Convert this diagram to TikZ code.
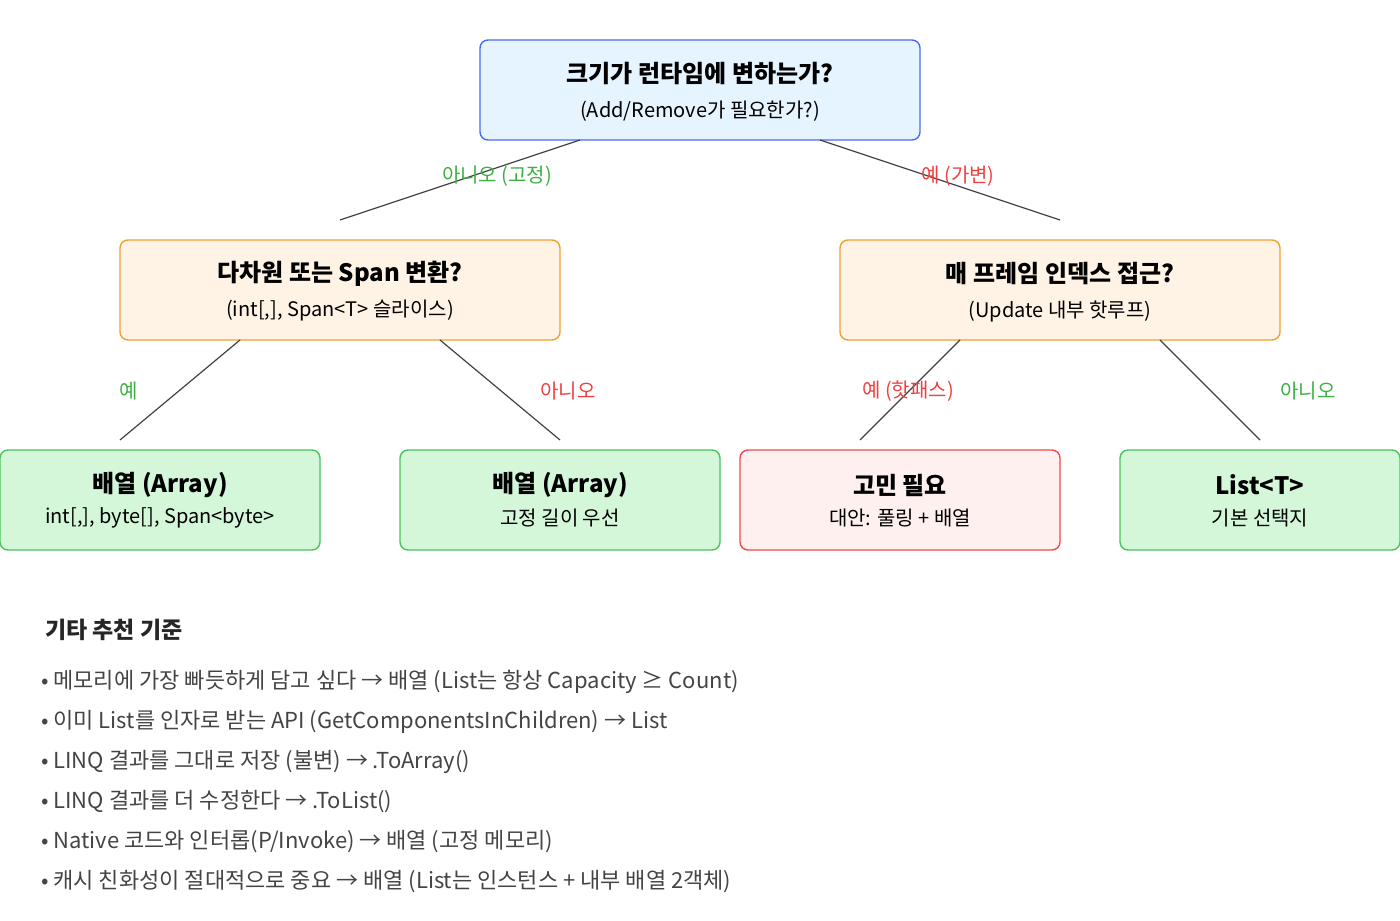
\documentclass[tikz,border=0pt]{standalone}
\usepackage{fontspec}
\setmainfont{Noto Sans CJK KR}
\definecolor{qfill}{HTML}{E6F4FF}\definecolor{qdraw}{HTML}{4A6CF0}
\definecolor{ofill}{HTML}{FFF3E6}\definecolor{odraw}{HTML}{F0A030}
\definecolor{gfill}{HTML}{D4F7DA}\definecolor{gdraw}{HTML}{4CC35A}
\definecolor{rfill}{HTML}{FFF0F0}\definecolor{rdraw}{HTML}{F04A4A}
\definecolor{ylab}{HTML}{3CB043}\definecolor{nlab}{HTML}{F04040}
\definecolor{note}{HTML}{444444}
\tikzset{
  box/.style = {rounded corners=4pt, line width=0.7pt},
  ttl/.style = {font=\fontsize{12}{14}\selectfont\bfseries, text=black},
  sub/.style = {font=\fontsize{10}{12}\selectfont, text=black},
  lab/.style = {font=\fontsize{10}{12}\selectfont},
  bul/.style = {font=\fontsize{11}{13}\selectfont, text=note, anchor=west}
}
\begin{document}
\begin{tikzpicture}[x=0.5pt, y=-0.5pt]
        \useasboundingbox (0,0) rectangle (1400,920);

        % questions
        \draw [box, fill=qfill, draw=qdraw] (480,40) rectangle (920,140);
        \node [ttl] (q1) at (700,74) {크기가 런타임에 변하는가?};
        \node [sub] (q1s) at (700,111) {(Add/Remove가 필요한가?)};

        \draw [box, fill=ofill, draw=odraw] (120,240) rectangle (560,340);
        \node [ttl] (q2) at (340,274) {다차원 또는 Span 변환?};
        \node [sub] (q2s) at (340,311) {(int[,], Span<T> 슬라이스)};

        \draw [box, fill=ofill, draw=odraw] (840,240) rectangle (1280,340);
        \node [ttl] (q3) at (1060,274) {매 프레임 인덱스 접근?};
        \node [sub] (q3s) at (1060,311) {(Update 내부 핫루프)};

        % answers
        \draw [box, fill=gfill, draw=gdraw] (0,450) rectangle (320,550);
        \node [ttl] (a1) at (160,485) {배열 (Array)};
        \node [sub] (a1s) at (160,518) {int[,], byte[], Span<byte>};

        \draw [box, fill=gfill, draw=gdraw] (400,450) rectangle (720,550);
        \node [ttl] (a2) at (560,485) {배열 (Array)};
        \node [sub] (a2s) at (560,518) {고정 길이 우선};

        \draw [box, fill=rfill, draw=rdraw] (740,450) rectangle (1060,550);
        \node [ttl] (a3) at (900,485) {고민 필요};
        \node [sub] (a3s) at (900,518) {대안: 풀링 + 배열};

        \draw [box, fill=gfill, draw=gdraw] (1120,450) rectangle (1400,550);
        \node [ttl] (a4) at (1260,485) {List<T>};
        \node [sub] (a4s) at (1260,518) {기본 선택지};

        % connectors
        \coordinate (c1a) at (580,140); \coordinate (c1b) at (340,220);
        \coordinate (c2a) at (820,140); \coordinate (c2b) at (1060,220);
        \coordinate (c3a) at (240,340); \coordinate (c3b) at (120,440);
        \coordinate (c4a) at (440,340); \coordinate (c4b) at (560,440);
        \coordinate (c5a) at (960,340); \coordinate (c5b) at (860,440);
        \coordinate (c6a) at (1160,340); \coordinate (c6b) at (1260,440);
        \foreach \a/\b in {c1a/c1b, c2a/c2b, c3a/c3b, c4a/c4b, c5a/c5b, c6a/c6b}
          \draw [line width=0.6pt, black!75] (\a) -- (\b);

        \node [lab, text=ylab] (l1) at (497,176) {아니오 (고정)};
        \node [lab, text=nlab] (l2) at (958,176) {예 (가변)};
        \node [lab, text=ylab] (l3) at (129,391) {예};
        \node [lab, text=nlab] (l4) at (568,391) {아니오};
        \node [lab, text=nlab] (l5) at (908,391) {예 (핫패스)};
        \node [lab, text=ylab] (l6) at (1308,391) {아니오};

        % notes
        \node [anchor=west, font=\fontsize{11.5}{13}\selectfont\bfseries, text=black!85] (h) at (38,630) {기타 추천 기준};
        \node [bul] (b1) at (34,682) {• 메모리에 가장 빠듯하게 담고 싶다 → 배열 (List는 항상 Capacity ≥ Count)};
        \node [bul] (b2) at (34,722) {• 이미 List를 인자로 받는 API (GetComponentsInChildren) → List};
        \node [bul] (b3) at (34,762) {• LINQ 결과를 그대로 저장 (불변) → .ToArray()};
        \node [bul] (b4) at (34,802) {• LINQ 결과를 더 수정한다 → .ToList()};
        \node [bul] (b5) at (34,842) {• Native 코드와 인터롭(P/Invoke) → 배열 (고정 메모리)};
        \node [bul] (b6) at (34,882) {• 캐시 친화성이 절대적으로 중요 → 배열 (List는 인스턴스 + 내부 배열 2객체)};
\end{tikzpicture}
\end{document}
